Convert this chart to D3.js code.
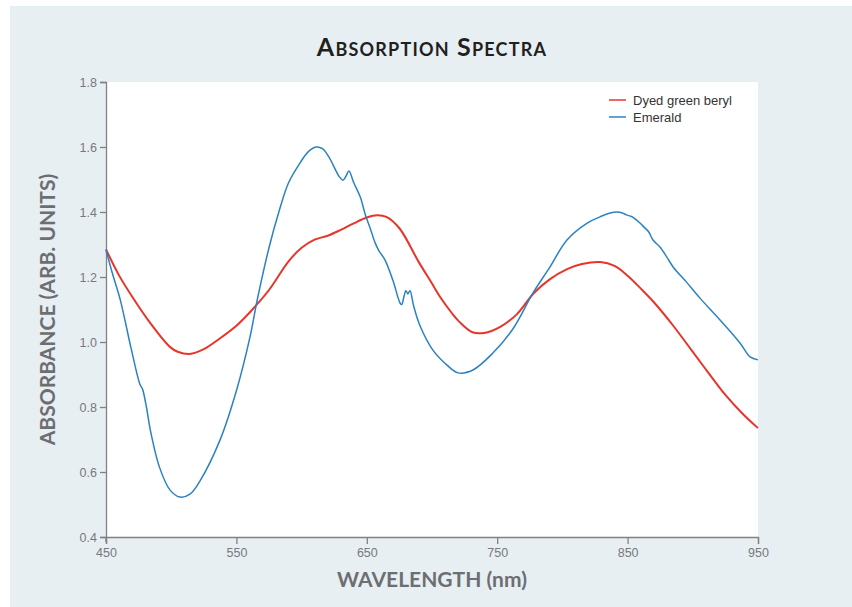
<!DOCTYPE html>
<html>
<head>
<meta charset="utf-8">
<script src="https://cdn.jsdelivr.net/npm/d3@7"></script>
<style>
  body { margin: 0; background: #fff; }
  svg { display: block; }
</style>
</head>
<body>
<script>
// wavelengths (nm) and absorbance
var beryl_nm  = [450, 460, 470, 484, 499, 505, 514, 525, 537, 550, 560, 575, 590, 600, 610, 620, 630, 640, 650, 658, 665, 675, 690, 700, 706, 715, 721, 731, 740, 752, 765, 778, 790, 804, 815, 829, 840, 850, 860, 870, 885, 899, 912, 925, 938, 950];
var beryl_abs = [1.285, 1.205, 1.14, 1.058, 0.985, 0.97, 0.963, 0.978, 1.01, 1.05, 1.09, 1.16, 1.248, 1.29, 1.315, 1.327, 1.345, 1.365, 1.383, 1.39, 1.385, 1.35, 1.245, 1.18, 1.14, 1.09, 1.062, 1.03, 1.028, 1.046, 1.085, 1.15, 1.192, 1.225, 1.24, 1.246, 1.234, 1.204, 1.165, 1.123, 1.05, 0.975, 0.905, 0.837, 0.78, 0.735];

var emerald_nm  = [450, 455, 461, 469, 476, 478, 481, 484, 491, 499, 506.6, 514.4, 522, 537.4, 550, 560.4, 566, 575, 583, 590, 598.8, 605, 611, 616, 621, 629, 631.7, 634, 636.3, 640, 645, 649, 652.6, 656.4, 659, 664, 670, 675.5, 676.8, 678.5, 680, 681.5, 683.1, 686, 690.8, 700.7, 711.5, 720, 731.4, 746.7, 762, 777.5, 790.5, 803.5, 819, 828.8, 836, 841.9, 846, 849, 853, 856, 859.5, 863, 866, 869.5, 874.8, 880, 884.9, 895, 905.5, 920.9, 936.2, 943.9, 950];
var emerald_abs = [1.283, 1.21, 1.129, 0.985, 0.87, 0.855, 0.8, 0.729, 0.615, 0.545, 0.523, 0.532, 0.572, 0.698, 0.85, 1.015, 1.13, 1.29, 1.406, 1.49, 1.551, 1.585, 1.6, 1.595, 1.569, 1.508, 1.498, 1.51, 1.526, 1.49, 1.446, 1.39, 1.35, 1.305, 1.283, 1.252, 1.19, 1.12, 1.115, 1.14, 1.158, 1.148, 1.158, 1.11, 1.05, 0.975, 0.929, 0.905, 0.914, 0.966, 1.04, 1.151, 1.231, 1.314, 1.366, 1.385, 1.396, 1.4, 1.397, 1.391, 1.386, 1.378, 1.366, 1.352, 1.34, 1.314, 1.292, 1.262, 1.231, 1.185, 1.135, 1.068, 0.997, 0.954, 0.945];

var xTicks = [450, 550, 650, 750, 850, 950];
var yTicks = [0.4, 0.6, 0.8, 1.0, 1.2, 1.4, 1.6, 1.8];

var series = [
  {name: "Dyed green beryl", nm: beryl_nm, abs: beryl_abs, color: "#e8352b", width: 2},
  {name: "Emerald", nm: emerald_nm, abs: emerald_abs, color: "#2a82c4", width: 1.5}
];

var W = 852, H = 607;
var margin = {top: 82, right: 94, bottom: 70, left: 106};
var width = W - margin.left - margin.right,
    height = H - margin.top - margin.bottom;

var svg = d3.select("body").append("svg")
    .attr("width", W)
    .attr("height", H);

// panel background
svg.append("rect")
   .attr("x", 10).attr("y", 6)
   .attr("width", W - 10).attr("height", H - 6)
   .attr("fill", "#e7eff3");

svg.append("text")
   .attr("x", margin.left + width / 2)
   .attr("y", 56)
   .attr("text-anchor", "middle")
   .attr("font-family", "Lato, 'Open Sans', sans-serif")
   .attr("font-weight", "bold")
   .attr("font-size", 25)
   .attr("letter-spacing", 1.2)
   .style("font-variant", "small-caps")
   .attr("fill", "#231f20")
   .text("Absorption Spectra");

var g = svg.append("g")
    .attr("transform", "translate(" + margin.left + "," + margin.top + ")");

var x = d3.scaleLinear().domain([450, 950]).range([0, width]);
var y = d3.scaleLinear().domain([0.4, 1.8]).range([height, 0]);

// white plot area
g.append("rect")
 .attr("width", width).attr("height", height)
 .attr("fill", "#fff");

// axes
var xAxis = g.append("g")
   .attr("transform", "translate(0," + height + ")")
   .call(d3.axisBottom(x).tickValues(xTicks).tickSize(7).tickPadding(4).tickFormat(d3.format("d")));

var yAxis = g.append("g")
   .call(d3.axisLeft(y).tickValues(yTicks).tickSize(6).tickPadding(3).tickFormat(d3.format(".1f")));

[xAxis, yAxis].forEach(function(a) {
  a.select(".domain").attr("stroke", "#808184").attr("stroke-width", 1.3);
  a.selectAll(".tick line").attr("stroke", "#808184").attr("stroke-width", 1.3);
  a.selectAll(".tick text")
   .attr("fill", "#77787b")
   .attr("font-family", "'Liberation Sans', Arial, sans-serif")
   .attr("font-size", 12.5);
});
// the y axis runs a little past the bottom
g.append("line")
 .attr("x1", 0).attr("x2", 0)
 .attr("y1", height).attr("y2", height + 5)
 .attr("stroke", "#808184").attr("stroke-width", 1.3);

// curves
var line = d3.line()
    .x(function(d) { return x(d[0]); })
    .y(function(d) { return y(d[1]); })
    .curve(d3.curveCatmullRom.alpha(0.5));

series.forEach(function(s) {
  var pts = s.nm.map(function(v, i) { return [v, s.abs[i]]; });
  g.append("path")
   .datum(pts)
   .attr("fill", "none")
   .attr("stroke", s.color)
   .attr("stroke-width", s.width)
   .attr("stroke-linejoin", "round")
   .attr("d", line);
});

// axis titles
g.append("text")
 .attr("x", width / 2)
 .attr("y", height + 50)
 .attr("text-anchor", "middle")
 .attr("font-family", "Lato, 'Open Sans', sans-serif")
 .attr("font-weight", "bold")
 .attr("font-size", 21)
 .attr("fill", "#6d6e71")
 .text("WAVELENGTH (nm)");

g.append("text")
 .attr("transform", "rotate(-90)")
 .attr("x", -height / 2)
 .attr("y", -51)
 .attr("text-anchor", "middle")
 .attr("font-family", "Lato, 'Open Sans', sans-serif")
 .attr("font-weight", "bold")
 .attr("font-size", 21)
 .attr("fill", "#6d6e71")
 .text("ABSORBANCE (ARB. UNITS)");

// legend
var legend = g.selectAll(".legend")
   .data(series)
   .enter().append("g")
   .attr("class", "legend")
   .attr("transform", function(d, i) { return "translate(" + (width - 149) + "," + (18 + i * 17) + ")"; });

legend.append("line")
   .attr("x1", 0).attr("x2", 17)
   .attr("stroke", function(d) { return d.color; })
   .attr("stroke-width", 1.5);

legend.append("text")
   .attr("x", 24)
   .attr("dy", "0.35em")
   .attr("font-family", "'Liberation Sans', Arial, sans-serif")
   .attr("font-size", 13)
   .attr("fill", "#333")
   .text(function(d) { return d.name; });
</script>
</body>
</html>
